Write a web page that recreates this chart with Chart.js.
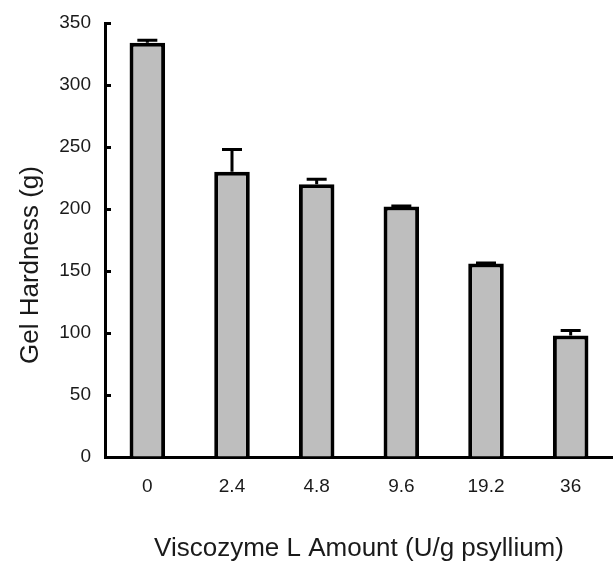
<!DOCTYPE html>
<html>
<head>
<meta charset="utf-8">
<script src="https://cdn.jsdelivr.net/npm/chart.js@4"></script>
<style>
  html, body { margin: 0; padding: 0; background: #fff; }
  #wrap { width: 613px; height: 562px; }
</style>
</head>
<body>
<div id="wrap"><canvas id="hardnessChart" width="613" height="562"></canvas></div>
<script>
  const categories = ['0', '2.4', '4.8', '9.6', '19.2', '36'];
  const hardness = [334, 230, 220, 202, 156, 98];
  const hardnessErr = [2, 18, 4, 0.5, 0.5, 4];
  const yTitle = 'Gel Hardness (g)';
  const xTitle = 'Viscozyme L Amount (U/g psyllium)';

  // upper error bars, drawn through the y scale
  const errorBars = {
    id: 'errorBars',
    afterDatasetsDraw(chart) {
      const ctx = chart.ctx;
      const y = chart.scales.y;
      const meta = chart.getDatasetMeta(0);
      ctx.save();
      ctx.strokeStyle = '#000';
      ctx.lineWidth = 3;
      meta.data.forEach((bar, i) => {
        const top = y.getPixelForValue(hardness[i]);
        const end = y.getPixelForValue(hardness[i] + hardnessErr[i]);
        ctx.beginPath();
        ctx.moveTo(bar.x, top);
        ctx.lineTo(bar.x, end);
        ctx.moveTo(bar.x - 10, end);
        ctx.lineTo(bar.x + 10, end);
        ctx.stroke();
      });
      ctx.restore();
    }
  };

  // y title sits a bit below the axis middle in the original
  const yAxisTitle = {
    id: 'yAxisTitle',
    afterDraw(chart) {
      const ctx = chart.ctx;
      ctx.save();
      ctx.translate(31, 265);
      ctx.rotate(-Math.PI / 2);
      ctx.font = '26px "Liberation Sans", Arial, sans-serif';
      ctx.fillStyle = '#1a1a1a';
      ctx.textAlign = 'center';
      ctx.textBaseline = 'middle';
      ctx.fillText(yTitle, 0, 0);
      ctx.restore();
    }
  };

  const ctx = document.getElementById('hardnessChart').getContext('2d');

  const config = {
    type: 'bar',
    data: {
      labels: categories,
      datasets: [{
        label: yTitle,
        data: hardness,
        backgroundColor: '#bebebe',
        borderColor: '#000',
        borderWidth: 4,
        borderSkipped: 'bottom',
        barPercentage: 0.42,
        categoryPercentage: 1
      }]
    },
    options: {
      responsive: false,
      animation: false,
      layout: { padding: { top: 23, right: 0, bottom: 0, left: 0 } },
      plugins: {
        legend: { display: false },
        tooltip: { enabled: false }
      },
      scales: {
        x: {
          grid: { display: false, drawTicks: false },
          border: { display: true, color: '#000', width: 3 },
          ticks: {
            color: '#1a1a1a',
            padding: 18,
            font: { family: '"Liberation Sans", Arial, sans-serif', size: 19 }
          },
          title: {
            display: true,
            text: xTitle,
            color: '#1a1a1a',
            padding: 0,
            font: { family: '"Liberation Sans", Arial, sans-serif', size: 26, lineHeight: 1 }
          },
          afterFit(scale) { scale.height = 105; }
        },
        y: {
          min: 0,
          max: 350,
          ticks: {
            stepSize: 50,
            color: '#1a1a1a',
            padding: 20,
            font: { family: '"Liberation Sans", Arial, sans-serif', size: 19 }
          },
          grid: { drawOnChartArea: false, tickLength: -6, tickColor: '#000', tickWidth: 3 },
          border: { display: true, color: '#000', width: 3 },
          afterFit(scale) {
            scale.width = 105;
            // the tick padding otherwise pushes the plot top down
            scale.paddingTop = 0;
            scale.paddingBottom = 0;
          }
        }
      }
    },
    plugins: [errorBars, yAxisTitle]
  };

  const hardnessChart = new Chart(ctx, config);
</script>
</body>
</html>
